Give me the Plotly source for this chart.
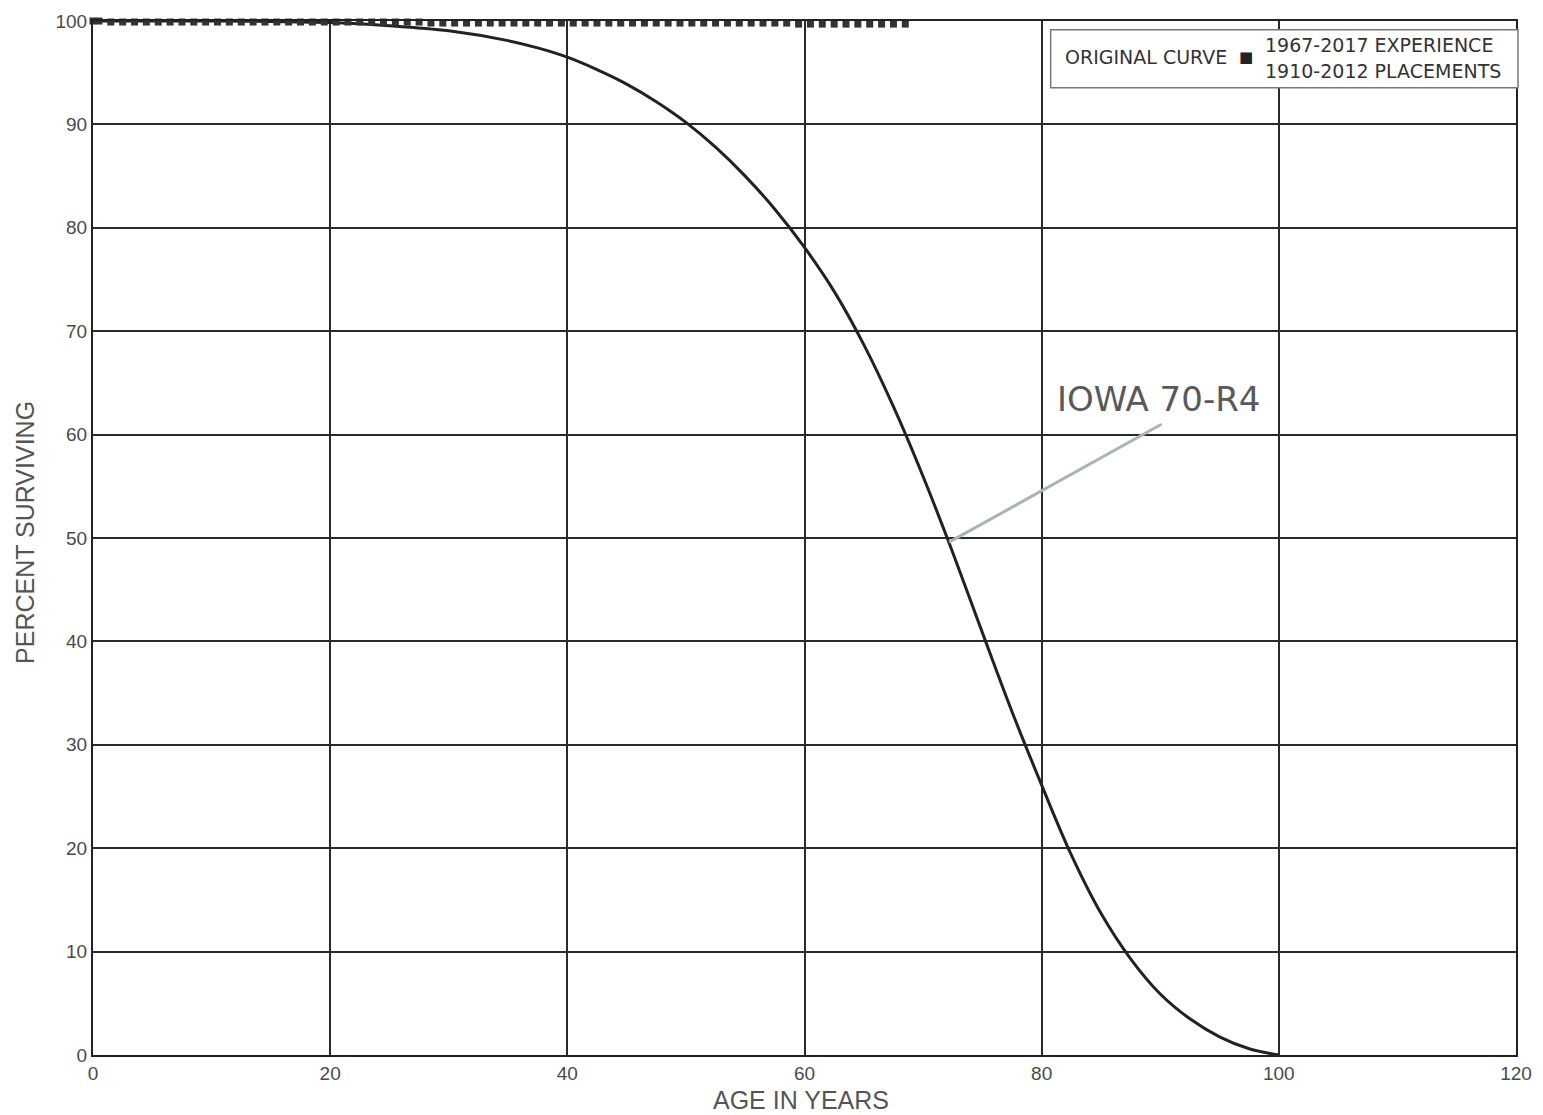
import plotly.graph_objects as go

# Iowa 70-R4 survivor curve (age in years, percent surviving)
curve_age = [0, 10, 15, 20, 25, 30, 35, 37.5, 40, 42.5, 45, 47.5, 50, 52.5, 55,
             57.5, 60, 62.5, 65, 67.5, 70, 72.5, 75, 77.5, 80, 82.5, 85, 87.5,
             90, 92.5, 95, 97.5, 100]
curve_pct = [100, 100, 99.95, 99.85, 99.55, 99.05, 98.1, 97.4, 96.5, 95.3, 93.9,
             92.2, 90.2, 87.8, 85.0, 81.8, 78.1, 73.85, 68.7, 62.7, 55.95, 48.6,
             40.85, 33.2, 26.1, 19.35, 13.7, 9.3, 5.9, 3.5, 1.75, 0.6, 0.0]

# Observed life table, 1967-2017 experience / 1910-2012 placements
obs_age = [0, 0.5, 1.5, 2.5, 3.5, 4.5, 5.5, 6.5, 7.5, 8.5, 9.5, 10.5, 11.5, 12.5,
           13.5, 14.5, 15.5, 16.5, 17.5, 18.5, 19.5, 20.5, 21.5, 22.5, 23.5, 24.5,
           25.5, 26.5, 27.5, 28.5, 29.5, 30.5, 31.5, 32.5, 33.5, 34.5, 35.5, 36.5,
           37.5, 38.5, 39.5, 40.5, 41.5, 42.5, 43.5, 44.5, 45.5, 46.5, 47.5, 48.5,
           49.5, 50.5, 51.5, 52.5, 53.5, 54.5, 55.5, 56.5, 57.5, 58.5, 59.5, 60.5,
           61.5, 62.5, 63.5, 64.5, 65.5, 66.5, 67.5, 68.5]
obs_pct = [100.0, 100.0, 99.9, 99.9, 99.9, 99.9, 99.9, 99.9, 99.9, 99.9, 99.9, 99.9,
           99.9, 99.9, 99.9, 99.9, 99.9, 99.9, 99.9, 99.9, 99.9, 99.9, 99.9, 99.9,
           99.9, 99.9, 99.9, 99.9, 99.9, 99.8, 99.8, 99.8, 99.8, 99.8, 99.8, 99.8,
           99.8, 99.8, 99.8, 99.8, 99.8, 99.8, 99.8, 99.8, 99.8, 99.8, 99.8, 99.8,
           99.8, 99.8, 99.8, 99.8, 99.8, 99.8, 99.8, 99.8, 99.8, 99.8, 99.8, 99.8,
           99.7, 99.7, 99.7, 99.7, 99.7, 99.7, 99.7, 99.7, 99.7, 99.7]

x_ticks = [0, 20, 40, 60, 80, 100, 120]
y_ticks = [0, 10, 20, 30, 40, 50, 60, 70, 80, 90, 100]

GRID = "#2a2a2a"
TICK_FONT = dict(family="Liberation Sans, Arial, sans-serif", size=19, color="#4a4a4a")
TITLE_FONT = dict(family="Liberation Sans, Arial, sans-serif", size=25, color="#555555")
LEG_FONT = dict(family="DejaVu Sans, Verdana, sans-serif", size=19, color="#333333")

fig = go.Figure()

fig.add_trace(go.Scatter(
    x=curve_age, y=curve_pct, mode="lines",
    line=dict(color="#222222", width=3, shape="spline", smoothing=1.0),
    name="ORIGINAL CURVE", showlegend=False, cliponaxis=False,
))
fig.add_trace(go.Scatter(
    x=obs_age, y=obs_pct, mode="markers",
    marker=dict(symbol="square", size=7, color="#333333", line=dict(width=0)),
    name="1967-2017 EXPERIENCE", showlegend=False, cliponaxis=False,
))

fig.update_layout(
    width=1543, height=1115,
    margin=dict(l=93, r=25, t=11, b=60),
    paper_bgcolor="white", plot_bgcolor="white",
    showlegend=False,
    xaxis=dict(
        range=[0, 120], tickvals=x_ticks, ticktext=[str(v) for v in x_ticks],
        showgrid=True, gridcolor=GRID, gridwidth=2,
        showline=True, linecolor="#222222", linewidth=2, mirror=True,
        zeroline=False, ticks="", tickfont=TICK_FONT,
    ),
    yaxis=dict(
        range=[0, 100], tickvals=y_ticks, ticktext=[str(v) for v in y_ticks],
        showgrid=True, gridcolor=GRID, gridwidth=2,
        showline=True, linecolor="#222222", linewidth=2, mirror=True,
        zeroline=False, ticks="", tickfont=TICK_FONT,
    ),
)

# Axis titles
fig.add_annotation(text="PERCENT SURVIVING", xref="paper", yref="paper",
                   x=-0.0477, y=0.505, textangle=-90, showarrow=False,
                   xanchor="center", yanchor="middle", font=TITLE_FONT)
fig.add_annotation(text="AGE IN YEARS", xref="paper", yref="paper",
                   x=0.4975, y=-0.0434, showarrow=False,
                   xanchor="center", yanchor="middle", font=TITLE_FONT)

# Legend box
fig.add_shape(type="rect", xref="paper", yref="paper",
              x0=0.673, x1=1.0014, y0=0.9354, y1=0.9915,
              fillcolor="white", line=dict(color="#777777", width=1.5), layer="above")
fig.add_annotation(text="ORIGINAL CURVE", xref="paper", yref="paper",
                   x=0.682, y=0.965, xanchor="left", yanchor="middle",
                   showarrow=False, font=LEG_FONT)
fig.add_annotation(text="■", xref="paper", yref="paper",
                   x=0.810, y=0.965, xanchor="center", yanchor="middle",
                   showarrow=False, font=dict(family="DejaVu Sans", size=15, color="#222222"))
fig.add_annotation(text="1967-2017 EXPERIENCE", xref="paper", yref="paper",
                   x=0.8225, y=0.977, xanchor="left", yanchor="middle",
                   showarrow=False, font=LEG_FONT)
fig.add_annotation(text="1910-2012 PLACEMENTS", xref="paper", yref="paper",
                   x=0.8225, y=0.952, xanchor="left", yanchor="middle",
                   showarrow=False, font=LEG_FONT)

# Curve label with leader line
fig.add_shape(type="line", xref="x", yref="y", x0=72.2, y0=49.6, x1=90.1, y1=61.0,
              line=dict(color="#aab4b0", width=3), layer="above")
fig.add_annotation(text="IOWA 70-R4", xref="x", yref="y", x=89.85, y=63.4,
                   xanchor="center", yanchor="middle", showarrow=False,
                   font=dict(family="DejaVu Sans, Verdana, sans-serif", size=34, color="#595959"))

fig.write_html("out.html")
